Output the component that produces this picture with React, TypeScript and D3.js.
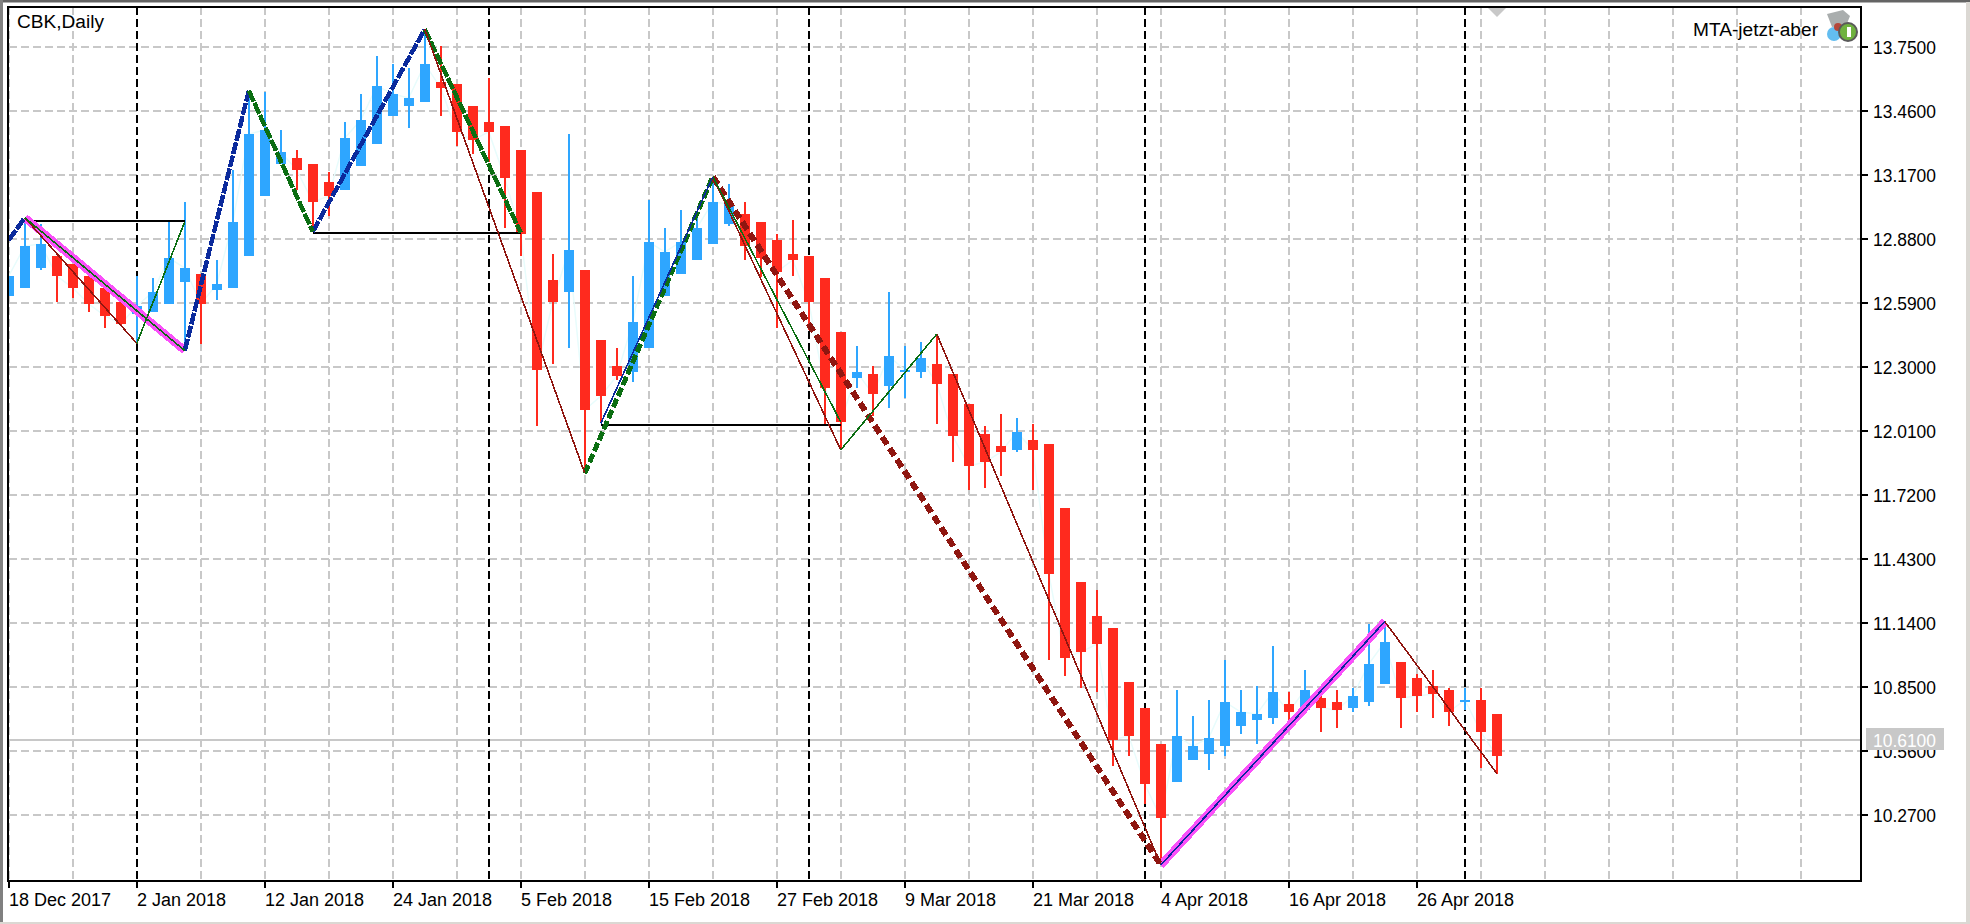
import React from "react";
import * as d3 from "d3";

const title = "CBK,Daily";
const expertName = "MTA-jetzt-aber";
const bidPrice = 10.61;
const priceTicks = [13.75, 13.46, 13.17, 12.88, 12.59, 12.3, 12.01, 11.72, 11.43, 11.14, 10.85, 10.56, 10.27];
const dateTicks = ["18 Dec 2017", "2 Jan 2018", "12 Jan 2018", "24 Jan 2018", "5 Feb 2018", "15 Feb 2018", "27 Feb 2018", "9 Mar 2018", "21 Mar 2018", "4 Apr 2018", "16 Apr 2018", "26 Apr 2018"];
const periodSeparators = [8, 30, 50, 71, 91];

const opens = [12.62,12.657,12.747,12.802,12.765,12.711,12.657,12.593,12.539,12.548,12.584,12.684,12.72,12.648,12.657,12.802,13.074,13.219,13.246,13.219,13.137,13.101,13.209,13.309,13.436,13.481,13.499,13.59,13.581,13.481,13.409,13.391,13.282,13.092,12.693,12.638,12.738,12.421,12.303,12.276,12.385,12.62,12.72,12.784,12.856,12.947,12.992,12.956,12.874,12.811,12.802,12.702,12.457,12.249,12.267,12.213,12.276,12.276,12.312,12.267,12.131,11.995,11.941,11.923,11.968,11.95,11.66,11.324,11.17,11.116,10.871,10.754,10.59,10.418,10.518,10.545,10.581,10.672,10.699,10.708,10.772,10.744,10.799,10.781,10.754,10.781,10.862,10.962,10.889,10.853,10.835,10.781,10.79,10.726];
const highs = [12.711,12.965,12.947,12.802,12.765,12.711,12.657,12.593,12.711,12.702,12.956,13.046,12.72,12.784,13.191,13.551,13.545,13.373,13.282,13.219,13.182,13.409,13.536,13.708,13.672,13.654,13.826,13.753,13.581,13.481,13.608,13.391,13.282,13.092,12.811,13.354,12.738,12.421,12.385,12.711,13.055,12.929,13.01,12.98,13.161,13.128,13.046,12.956,12.901,12.965,12.802,12.702,12.457,12.394,12.303,12.638,12.394,12.412,12.448,12.267,12.131,12.031,12.086,12.068,12.04,11.95,11.66,11.324,11.288,11.116,10.871,10.754,10.59,10.835,10.717,10.79,10.971,10.835,10.853,11.034,10.826,10.926,10.85,10.835,10.844,11.134,11.137,10.962,10.908,10.926,10.844,10.844,10.844,10.726];
const lows = [12.62,12.657,12.738,12.593,12.611,12.548,12.475,12.484,12.406,12.548,12.584,12.376,12.403,12.602,12.657,12.802,13.074,13.219,13.101,12.919,12.983,13.101,13.209,13.309,13.436,13.382,13.499,13.436,13.3,13.264,13.228,12.929,12.802,12.031,12.312,12.385,11.817,12.043,12.24,12.231,12.385,12.62,12.72,12.784,12.856,12.938,12.784,12.708,12.475,12.711,12.466,12.04,11.923,12.203,12.077,12.113,12.158,12.249,12.04,11.868,11.741,11.75,11.805,11.913,11.741,10.971,10.899,10.844,10.826,10.491,10.536,10.319,10.05,10.418,10.518,10.473,10.536,10.636,10.59,10.681,10.681,10.729,10.645,10.663,10.735,10.763,10.862,10.663,10.735,10.708,10.672,10.744,10.482,10.454];
const closes = [12.711,12.847,12.856,12.711,12.657,12.584,12.53,12.494,12.575,12.638,12.793,12.747,12.584,12.675,12.956,13.354,13.373,13.273,13.191,13.046,13.074,13.336,13.418,13.572,13.536,13.518,13.672,13.563,13.364,13.327,13.364,13.155,12.901,12.285,12.593,12.829,12.104,12.167,12.258,12.503,12.865,12.82,12.865,12.929,13.046,13.037,12.847,12.793,12.729,12.784,12.593,12.203,12.049,12.276,12.176,12.349,12.285,12.339,12.222,11.986,11.85,11.868,11.913,12.004,11.923,11.361,10.98,11.007,11.043,10.609,10.627,10.409,10.255,10.627,10.581,10.618,10.781,10.735,10.726,10.826,10.735,10.835,10.754,10.744,10.808,10.953,11.053,10.799,10.808,10.817,10.735,10.79,10.645,10.536];

// zigzag pivots: [bar index, price]
type Pt = [number, number];
const navyThick: Pt[][] = [[[0, 12.874], [1, 12.975]], [[11, 12.373], [15, 13.551]], [[19, 12.912], [26, 13.829]]];
const navyThin: Pt[][] = [[[37, 12.043], [44, 13.161]], [[72, 10.042], [86, 11.145]]];
const greenThick: Pt[][] = [[[15, 13.551], [19, 12.912]], [[26, 13.829], [32, 12.907]]];
const greenDashed: Pt[][] = [[[36, 11.817], [44, 13.161]]];
const greenThin: Pt[][] = [[[1, 12.975], [11, 12.373]], [[8, 12.406], [11, 12.957]], [[44, 13.161], [52, 12.049]], [[52, 11.923], [58, 12.448]]];
const redThin: Pt[][] = [[[1, 12.975], [8, 12.406]], [[26, 13.829], [36, 11.817]], [[44, 13.161], [52, 11.923]], [[58, 12.448], [72, 10.042]], [[86, 11.145], [93, 10.457]]];
const redDashed: Pt[][] = [[[44, 13.161], [72, 10.042]]];
const magentaWide: Pt[][] = [[[1, 12.975], [11, 12.373]], [[72, 10.042], [86, 11.145]]];
const blackLevels: Pt[][] = [[[1, 12.962], [11, 12.962]], [[19, 12.907], [32, 12.907]], [[37, 12.036], [52, 12.036]]];

const W = 1970, H = 924;
const left = 9, right = 1861, top = 7, bottom = 881;
const barStep = 16;
const font = "'Liberation Sans', Arial, sans-serif";
const BLUE = "#2ea6ff", RED = "#ff2a1e", GRID = "#c8c8c8";

export default function App() {
  const x = d3.scaleLinear().domain([0, 93]).range([8.8, 8.8 + 93 * barStep]);
  const y = d3.scaleLinear().domain([13.75, 10.27]).range([46.7, 814.7]);
  const line = d3.line<Pt>().x(d => x(d[0])).y(d => y(d[1]));
  const gridBars = d3.range(0, 116, 4);
  const px = (v: number) => Math.round(v);

  const drawSet = (set: Pt[][], stroke: string, width: number, dash?: string) =>
    set.map((s, k) => (
      <path key={k} d={line(s) || ""} fill="none" stroke={stroke} strokeWidth={width} strokeDasharray={dash} shapeRendering="crispEdges" />
    ));

  return (
    <svg width={W} height={H} viewBox={`0 0 ${W} ${H}`} style={{ position: "absolute", left: 0, top: 0, display: "block" }}>
      <defs>
        <clipPath id="plot"><rect x={left} y={top} width={right - left} height={bottom - top} /></clipPath>
      </defs>
      <rect width={W} height={H} fill="#ffffff" />
      <rect x={0} y={0} width={W} height={2.5} fill="#646464" />
      <rect x={0} y={0} width={3} height={H} fill="#808080" />
      <rect x={1966} y={2} width={4} height={H} fill="#dbd8d3" />
      <rect x={0} y={922} width={W} height={2} fill="#dbd8d3" />

      <g clipPath="url(#plot)">
        {gridBars.map(i => (
          <line key={i} x1={px(x(i))} x2={px(x(i))} y1={top} y2={bottom} stroke={GRID} strokeWidth={2} strokeDasharray="8 4" shapeRendering="crispEdges" />
        ))}
        {priceTicks.map(p => (
          <line key={p} x1={left} x2={right} y1={px(y(p))} y2={px(y(p))} stroke={GRID} strokeWidth={2} strokeDasharray="8 4" shapeRendering="crispEdges" />
        ))}
        <line x1={left} x2={right} y1={px(y(bidPrice))} y2={px(y(bidPrice))} stroke={GRID} strokeWidth={2} shapeRendering="crispEdges" />
        {periodSeparators.map(i => (
          <line key={i} x1={px(x(i))} x2={px(x(i))} y1={top} y2={bottom} stroke="#000" strokeWidth={2} strokeDasharray="8 4" shapeRendering="crispEdges" />
        ))}

        <path d={d3.line<number>().x((_, i) => x(i)).y(d => y(d))(closes) || ""} fill="none" stroke="#e8fcfc" strokeWidth={1.5} />

        {closes.map((c, i) => {
          const o = opens[i];
          const color = c >= o ? BLUE : RED;
          const t = px(y(Math.max(o, c)));
          const b = px(y(Math.min(o, c)));
          const cx = px(x(i));
          return (
            <g key={i} shapeRendering="crispEdges">
              <rect x={cx - 1} y={px(y(highs[i]))} width={2} height={Math.max(px(y(lows[i])) - px(y(highs[i])), 1)} fill={color} />
              <rect x={cx - 5} y={t} width={10} height={Math.max(b - t, 2)} fill={color} />
            </g>
          );
        })}

        {drawSet(blackLevels, "#000", 2)}
        {drawSet(magentaWide, "#fa50fa", 8)}
        {drawSet(navyThick, "#0b2a9c", 4.5, "12 1.5")}
        {drawSet(greenThick, "#0b6e12", 4.5, "12 1.5")}
        {drawSet(greenDashed, "#0b6e12", 5, "9 3")}
        {drawSet(redDashed, "#8f1610", 6, "9 4.5")}
        {drawSet(redThin, "#8f1610", 1.6)}
        {drawSet(greenThin, "#0b6e12", 1.6)}
        {drawSet(navyThin, "#0b2a9c", 1.6)}

        <path d={`M1488 8 L1506 8 L1497 17 Z`} fill={GRID} />
      </g>

      {/* frame */}
      <rect x={left - 1} y={top} width={right - left + 1} height={bottom - top} fill="none" stroke="#000" strokeWidth={2} shapeRendering="crispEdges" />

      {/* price axis */}
      {priceTicks.map(p => (
        <g key={p}>
          <line x1={right} x2={1868} y1={px(y(p))} y2={px(y(p))} stroke="#000" strokeWidth={2} shapeRendering="crispEdges" />
          <text x={1873} y={y(p) + 7} fontFamily={font} fontSize={18} textLength={63} lengthAdjust="spacingAndGlyphs" fill="#000">{p.toFixed(4)}</text>
        </g>
      ))}
      <rect x={1866} y={728} width={78} height={22} fill={GRID} />
      <text x={1873} y={y(bidPrice) + 7} fontFamily={font} fontSize={18} textLength={63} lengthAdjust="spacingAndGlyphs" fill="#fff">{bidPrice.toFixed(4)}</text>

      {/* time axis */}
      {dateTicks.map((d, k) => {
        const tx = px(x(k * 8));
        return (
          <g key={d}>
            <line x1={tx} x2={tx} y1={bottom} y2={888} stroke="#000" strokeWidth={2} shapeRendering="crispEdges" />
            <text x={tx} y={905.5} fontFamily={font} fontSize={18} fill="#000">{d}</text>
          </g>
        );
      })}

      <text x={17} y={28} fontFamily={font} fontSize={18} textLength={87} lengthAdjust="spacingAndGlyphs" fill="#000">{title}</text>
      <text x={1693} y={35.5} fontFamily={font} fontSize={18} textLength={125} lengthAdjust="spacingAndGlyphs" fill="#000">{expertName}</text>

      {/* expert icon */}
      <g>
        <path d="M1827 14 L1843 10 L1850 16 L1846 26 L1832 27 Z" fill="#a9adad" />
        <circle cx={1834} cy={34} r={7} fill="#63bdf0" />
        <circle cx={1838} cy={27} r={4} fill="#b5473a" />
        <circle cx={1848} cy={32} r={9} fill="#6fb23f" stroke="#5a5a5a" strokeWidth={2} />
        <rect x={1847} y={27} width={4} height={10} fill="#ffffff" />
      </g>
    </svg>
  );
}
